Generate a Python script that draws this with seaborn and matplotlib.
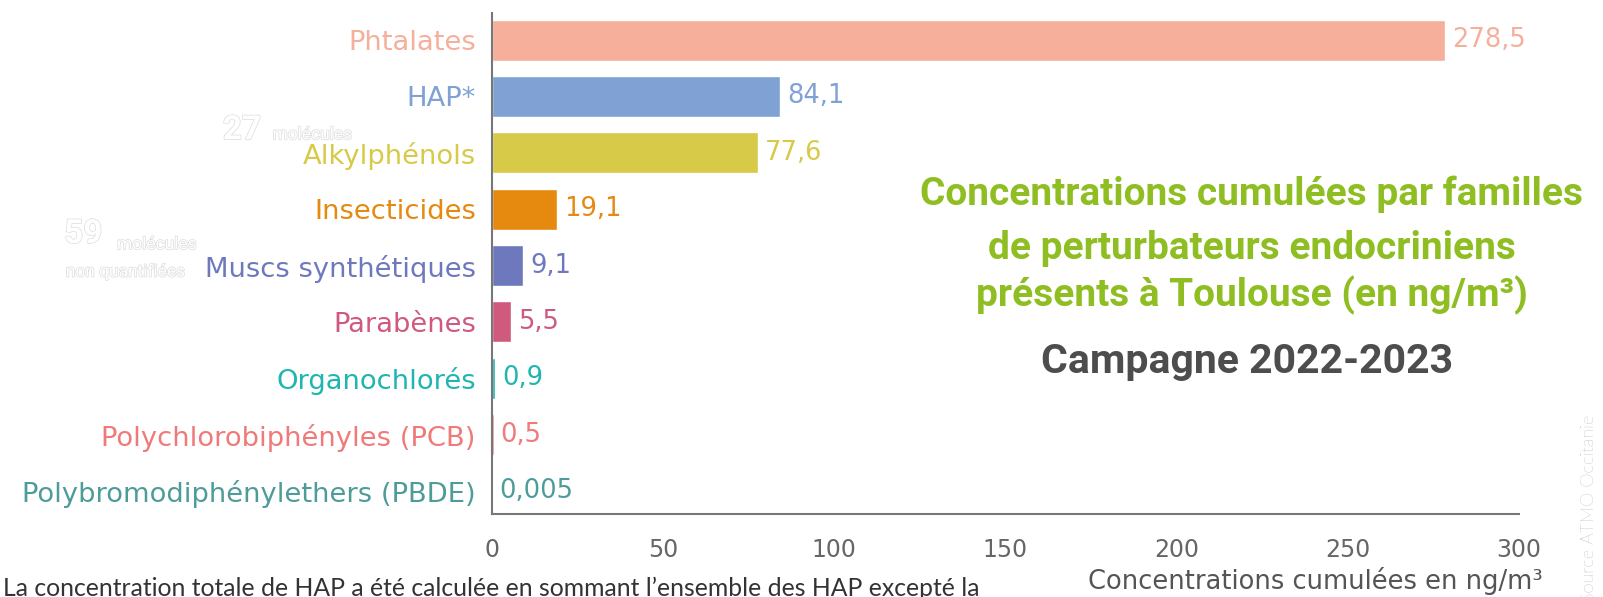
import matplotlib
matplotlib.use("Agg")
import matplotlib.pyplot as plt
import matplotlib.patheffects as pe
import seaborn as sns
import pandas as pd

# data
familles = ["Phtalates", "HAP*", "Alkylphénols", "Insecticides", "Muscs synthétiques",
            "Parabènes", "Organochlorés", "Polychlorobiphényles (PCB)",
            "Polybromodiphénylethers (PBDE)"]
concentrations = [278.5, 84.1, 77.6, 19.1, 9.1, 5.5, 0.9, 0.5, 0.005]
etiquettes = ["278,5", "84,1", "77,6", "19,1", "9,1", "5,5", "0,9", "0,5", "0,005"]
couleurs = ["#F5AF9A", "#7FA1D4", "#D6CA48", "#E5890F", "#6E79BD",
            "#CF5A7E", "#1FB5B0", "#F07A7A", "#4E9C99"]
x_ticks = [0, 50, 100, 150, 200, 250, 300]

df = pd.DataFrame({"famille": familles, "valeur": concentrations})

sns.set_style("white")
plt.rcParams["font.family"] = ["DejaVu Sans"]

fig = plt.figure(figsize=(16.03, 5.97), dpi=100)
ax = fig.add_axes([0.3069, 0.139, 0.6407, 0.8392])

sns.barplot(data=df, x="valeur", y="famille", hue="famille", palette=couleurs,
            orient="h", width=0.727, legend=False, ax=ax, saturation=1)

ax.set_xlim(0, 300)
ax.set_ylim(8.408, -0.479)

# value labels
for i, (v, lab, c) in enumerate(zip(concentrations, etiquettes, couleurs)):
    ax.annotate(lab, (v, i), xytext=(5, 0), textcoords="offset points",
                va="center", ha="left", color=c, fontsize=18.5)

# category labels coloured
ax.set_yticks(range(len(familles)))
ax.set_yticklabels(familles, fontsize=19.7)
for t, c in zip(ax.get_yticklabels(), couleurs):
    t.set_color(c)
ax.tick_params(axis="y", length=0, pad=11.5)

ax.set_xticks(x_ticks)
ax.set_xticklabels([str(t) for t in x_ticks], fontsize=17, color="#666666")
ax.tick_params(axis="x", direction="in", length=8.6, width=1.5, color="#777777", pad=17)

for s in ["top", "right"]:
    ax.spines[s].set_visible(False)
for s in ["left", "bottom"]:
    ax.spines[s].set_color("#777777")
    ax.spines[s].set_linewidth(1.5)

ax.set_xlabel("")
ax.set_ylabel("")
fig.text(0.9626, 0.014, "Concentrations cumulées en ng/m³", ha="right", va="baseline",
         fontsize=18.5, color="#555555")

# title block
vert = "#8FBE22"
fig.text(0.781, 0.657, "Concentrations cumulées par familles", ha="center", va="baseline",
         fontsize=28, fontweight="bold", color=vert, family="Roboto")
fig.text(0.781, 0.566, "de perturbateurs endocriniens", ha="center", va="baseline",
         fontsize=28, fontweight="bold", color=vert, family="Roboto")
fig.text(0.781, 0.487, "présents à Toulouse (en ng/m³)", ha="center", va="baseline",
         fontsize=28, fontweight="bold", color=vert, family="Roboto")
fig.text(0.778, 0.375, "Campagne 2022-2023", ha="center", va="baseline", fontsize=29.5,
         fontweight="bold", color="#4D4D4D", family="Roboto")

# faint annotations
halo = [pe.withStroke(linewidth=1.0, foreground="#DCDCDC")]
fig.text(0.139, 0.782, "27", fontsize=24, fontweight="bold", color="white",
         path_effects=halo, va="center", family="Roboto")
fig.text(0.170, 0.774, "molécules", fontsize=12.5, color="white", path_effects=halo,
         va="center", family="Roboto")
fig.text(0.040, 0.608, "59", fontsize=24, fontweight="bold", color="white",
         path_effects=halo, va="center", family="Roboto")
fig.text(0.073, 0.590, "molécules", fontsize=12.5, color="white", path_effects=halo,
         va="center", family="Roboto")
fig.text(0.041, 0.545, "non quantifiées", fontsize=12.5, color="white", path_effects=halo,
         va="center", family="Roboto")

# footnote
fig.text(0.002, 0.002, "La concentration totale de HAP a été calculée en sommant l\u2019ensemble des HAP excepté la",
         fontsize=17.8, color="#333333", family="Lato", fontweight="normal", va="baseline")

# source
fig.text(0.991, 0.305, "Source ATMO Occitanie", rotation=90, ha="center", va="top",
         fontsize=13, color="#8A8A8A", family="Lato", fontweight="light")

fig.savefig("out.png", dpi=100)
